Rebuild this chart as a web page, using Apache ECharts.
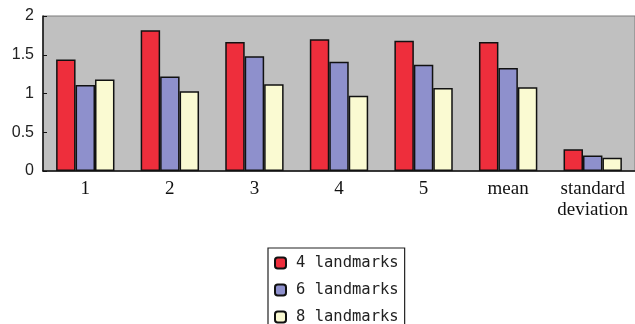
<!DOCTYPE html>
<html><head><meta charset="utf-8">
<script src="https://cdn.jsdelivr.net/npm/echarts@6/dist/echarts.min.js"></script>
<style>html,body{margin:0;padding:0;background:#fff}#c{width:635px;height:324px}</style>
</head><body><div id="c"></div>
<script>
var categories = ['1', '2', '3', '4', '5', 'mean', 'standard\ndeviation'];
var seriesNames = ['4 landmarks', '6 landmarks', '8 landmarks'];
var values4 = [1.44, 1.815, 1.665, 1.70, 1.68, 1.665, 0.28];
var values6 = [1.11, 1.22, 1.48, 1.41, 1.37, 1.33, 0.20];
var values8 = [1.18, 1.03, 1.12, 0.97, 1.07, 1.08, 0.17];
var yTicks = { min: 0, max: 2, interval: 0.5 };

var colors = ['#ee2e3c', '#8e90cc', '#fafad2'];
var chart = echarts.init(document.getElementById('c'), null, { renderer: 'canvas' });
function mk(name, data, color) {
  return {
    name: name, type: 'bar', data: data,
    barGap: '0%', barCategoryGap: '31%',
    itemStyle: { color: color, borderColor: '#111', borderWidth: 1.5 },
    emphasis: { disabled: true }
  };
}
chart.setOption({
  animation: false,
  grid: { left: 43, top: 16, width: 593, height: 155, show: true,
          backgroundColor: '#c0c0c0', borderColor: '#7a7a7a', borderWidth: 1 },
  legend: {
    orient: 'vertical', left: 268, top: 248, height: 120,
    backgroundColor: '#fff', borderColor: '#222', borderWidth: 1.2,
    padding: [7, 6, 20, 6],
    itemWidth: 11, itemHeight: 11, itemGap: 11,
    textStyle: { fontFamily: 'DejaVu Sans Mono', fontSize: 15.5, color: '#222', lineHeight: 16, padding: [0, 0, 0, 5] },
    data: seriesNames
  },
  xAxis: {
    type: 'category', data: categories,
    axisLine: { lineStyle: { color: '#111', width: 1.5 } },
    axisTick: { inside: true, length: 5, lineStyle: { color: '#111' } },
    axisLabel: { fontFamily: 'Liberation Serif', fontSize: 19, color: '#111', margin: 8, lineHeight: 21, interval: 0 }
  },
  yAxis: {
    type: 'value', min: yTicks.min, max: yTicks.max, interval: yTicks.interval,
    splitLine: { show: false },
    axisLine: { show: true, lineStyle: { color: '#111', width: 1.5 } },
    axisTick: { show: true, inside: true, length: 4, lineStyle: { color: '#111' } },
    axisLabel: { fontFamily: 'Liberation Sans', fontSize: 16, color: '#222', margin: 9 }
  },
  series: [mk(seriesNames[0], values4, colors[0]), mk(seriesNames[1], values6, colors[1]), mk(seriesNames[2], values8, colors[2])]
});
</script></body></html>
